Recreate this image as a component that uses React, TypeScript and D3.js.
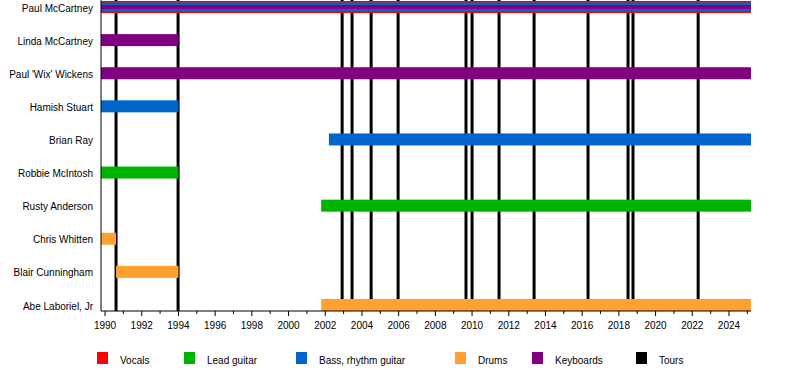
import React from "react";
import * as d3 from "d3";

const members = [
  "Paul McCartney",
  "Linda McCartney",
  "Paul 'Wix' Wickens",
  "Hamish Stuart",
  "Brian Ray",
  "Robbie McIntosh",
  "Rusty Anderson",
  "Chris Whitten",
  "Blair Cunningham",
  "Abe Laboriel, Jr",
];

const barMembers = [
  "Paul McCartney", "Paul McCartney", "Paul McCartney",
  "Linda McCartney", "Paul 'Wix' Wickens", "Hamish Stuart", "Brian Ray",
  "Robbie McIntosh", "Rusty Anderson", "Chris Whitten", "Blair Cunningham", "Abe Laboriel, Jr",
];
const barRoles = [
  "Vocals", "Bass, rhythm guitar", "Keyboards",
  "Keyboards", "Keyboards", "Bass, rhythm guitar", "Bass, rhythm guitar",
  "Lead guitar", "Lead guitar", "Drums", "Drums", "Drums",
];
const barStarts = [1989.78, 1989.78, 1989.78, 1989.78, 1989.78, 1989.78, 2002.2, 1989.78, 2001.78, 1989.78, 1990.6, 2001.78];
const barEnds = [2025.2, 2025.2, 2025.2, 1994.0, 2025.2, 1994.0, 2025.2, 1994.0, 2025.2, 1990.6, 1994.0, 2025.2];
const barWidths = [12, 9, 4, 12, 12, 12, 12, 12, 12, 12, 12, 12];

const tourDates = [1990.6, 1993.98, 2002.92, 2003.46, 2004.5, 2005.97, 2009.67, 2010.0, 2011.47, 2013.38, 2016.32, 2018.5, 2018.77, 2022.32];

const legendRoles = ["Vocals", "Lead guitar", "Bass, rhythm guitar", "Drums", "Keyboards", "Tours"];
const legendX = [97, 184, 296, 455, 532, 636];
const roleColors: Record<string, string> = {
  Vocals: "#ff0000",
  "Lead guitar": "#00b300",
  "Bass, rhythm guitar": "#0066cc",
  Drums: "#ffa030",
  Keyboards: "#800080",
  Tours: "#000000",
};

const tickYears = d3.range(1990, 2026);

export default function App() {
  const x = d3.scaleLinear().domain([1989.78, 2025.2]).range([101, 751]);
  const y = d3.scalePoint<string>().domain(members).range([7, 305]);
  const axisY = 311;
  const font = "'Liberation Sans', Arial, sans-serif";

  return (
    <svg width={800} height={370} style={{ position: "absolute", left: 0, top: 0 }} fontFamily={font}>
      <rect width={800} height={370} fill="#fff" />
      {tourDates.map((d, i) => (
        <line key={"t" + i} x1={x(d)} x2={x(d)} y1={0} y2={axisY} stroke="#000" strokeWidth={3} />
      ))}
      {barMembers.map((m, i) => {
        const cy = y(m)!;
        const h = barWidths[i];
        return (
          <rect
            key={"b" + i}
            x={x(barStarts[i])}
            width={x(barEnds[i]) - x(barStarts[i])}
            y={cy - h / 2}
            height={h}
            fill={roleColors[barRoles[i]]}
          />
        );
      })}
      {members.map((m) => (
        <text key={m} x={93} y={y(m)! + 1} dy="0.35em" textAnchor="end" fontSize={10} fill="#000">
          {m}
        </text>
      ))}
      <line x1={101} x2={101} y1={0} y2={axisY} stroke="#000" strokeWidth={1} />
      <line x1={101} x2={751} y1={axisY} y2={axisY} stroke="#000" strokeWidth={1} />
      {tickYears.map((yr) => {
        const major = yr % 2 === 0;
        return (
          <g key={yr}>
            <line x1={x(yr)} x2={x(yr)} y1={axisY} y2={axisY + (major ? 5 : 3)} stroke="#000" strokeWidth={1} />
            {major && (
              <text x={x(yr)} y={axisY + 18} textAnchor="middle" fontSize={10} fill="#000">
                {yr}
              </text>
            )}
          </g>
        );
      })}
      {legendRoles.map((r, i) => (
        <g key={r}>
          <rect x={legendX[i]} y={352} width={11} height={12} fill={roleColors[r]} />
          <text x={legendX[i] + 23} y={364} fontSize={10} fill="#000">
            {r}
          </text>
        </g>
      ))}
    </svg>
  );
}
